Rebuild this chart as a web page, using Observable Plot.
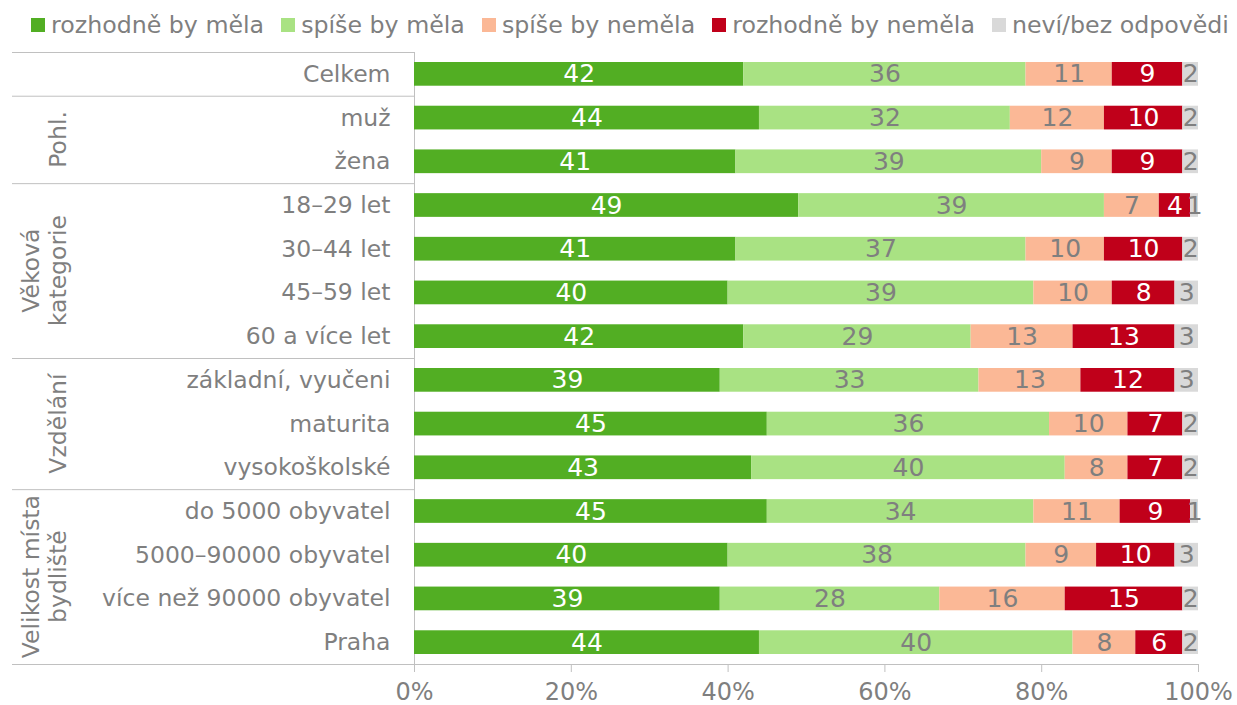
<!DOCTYPE html>
<html>
<head>
<meta charset="utf-8">
<script src="https://cdn.jsdelivr.net/npm/d3@7"></script>
<script src="https://cdn.jsdelivr.net/npm/@observablehq/plot@0.6"></script>
<style>
  html, body { margin: 0; padding: 0; background: #fff; overflow: hidden; width: 1237px; height: 705px; font-family: "DejaVu Sans", Verdana, sans-serif; }
  #legend { position: absolute; top: 0; left: 0; display: flex; align-items: center; height: 50px; padding-left: 31px; font-size: 23.7px; color: #7f7f7f; white-space: nowrap; }
  .item { display: flex; align-items: center; margin-right: 17px; }
  .sw { width: 14px; height: 14px; margin-right: 6px; flex: none; }
  #chart { position: absolute; top: 50px; left: 0; }
  #chart svg { display: block; max-width: none !important; }
</style>
</head>
<body>
<div id="legend"></div>
<div id="chart"></div>
<script>
// ---- data ----
const series = ["rozhodně by měla", "spíše by měla", "spíše by neměla", "rozhodně by neměla", "neví/bez odpovědi"];
const seriesColors = ["#52ae23", "#a9e283", "#fbb896", "#c0001a", "#d9d9d9"];
const categories = [
  "Celkem", "muž", "žena",
  "18–29 let", "30–44 let", "45–59 let", "60 a více let",
  "základní, vyučeni", "maturita", "vysokoškolské",
  "do 5000 obyvatel", "5000–90000 obyvatel", "více než 90000 obyvatel", "Praha"
];
const rozhodneAno = [42, 44, 41, 49, 41, 40, 42, 39, 45, 43, 45, 40, 39, 44];
const spiseAno    = [36, 32, 39, 39, 37, 39, 29, 33, 36, 40, 34, 38, 28, 40];
const spiseNe     = [11, 12,  9,  7, 10, 10, 13, 13, 10,  8, 11,  9, 16,  8];
const rozhodneNe  = [ 9, 10,  9,  4, 10,  8, 13, 12,  7,  7,  9, 10, 15,  6];
const nevi        = [ 2,  2,  2,  1,  2,  3,  3,  3,  2,  2,  1,  3,  2,  2];
const groupLabels = [[], ["Pohl."], ["Věková", "kategorie"], ["Vzdělání"], ["Velikost místa", "bydliště"]];
const groupFirst  = ["Celkem", "muž", "18–29 let", "základní, vyučeni", "do 5000 obyvatel"];
const groupLast   = ["Celkem", "žena", "60 a více let", "vysokoškolské", "Praha"];
const xTicks = [0, 20, 40, 60, 80, 100];
const whiteLabelSeries = ["rozhodně by měla", "rozhodně by neměla"];

// ---- table ----
const valueArrays = [rozhodneAno, spiseAno, spiseNe, rozhodneNe, nevi];
const rows = [];
categories.forEach((cat, i) => {
  series.forEach((s, j) => rows.push({cat, series: s, value: valueArrays[j][i]}));
});

// ---- legend ----
const legend = d3.select("#legend");
series.forEach((s, j) => {
  const it = legend.append("div").attr("class", "item");
  it.append("div").attr("class", "sw").style("background", seriesColors[j]);
  it.append("span").text(s);
});

const grey = "#7f7f7f";
const lineGrey = "#c0c0c0";

const plot = Plot.plot({
  width: 1237,
  height: 655,
  marginLeft: 414,
  marginRight: 39,
  marginTop: 2,
  marginBottom: 41,
  style: {fontFamily: "DejaVu Sans, Verdana, sans-serif", background: "white", overflow: "visible"},
  x: {domain: [0, 100], label: null},
  y: {domain: categories, padding: 0, round: false, label: null},
  color: {domain: series, range: seriesColors},
  marks: [
    Plot.ruleX([0], {stroke: lineGrey}),
    Plot.barX(rows, Plot.stackX({x: "value", y: "cat", fill: "series", insetTop: 10, insetBottom: 10})),
    Plot.text(rows, Plot.stackX({
      x: "value", y: "cat", z: "series",
      text: d => whiteLabelSeries.includes(d.series) ? String(d.value) : "",
      fill: "white", fontSize: 25
    })),
    Plot.text(rows, Plot.stackX({
      x: "value", y: "cat", z: "series",
      text: d => whiteLabelSeries.includes(d.series) ? "" : String(d.value),
      fill: grey, fontSize: 25
    })),
    Plot.axisY({tickSize: 0, tickPadding: 24, fontSize: 23.5, color: grey, label: null}),
    Plot.axisX({ticks: xTicks, tickFormat: d => d + "%", tickSize: 8, tickPadding: 10, fontSize: 24, color: grey, stroke: lineGrey, label: null})
  ]
});

document.getElementById("chart").appendChild(plot);

// ---- group separators and group labels (positions from the plot's scales) ----
const ys = plot.scale("y");
const xs = plot.scale("x");
const bw = ys.bandwidth;
const svg = d3.select(plot);
const g = svg.append("g");
const x0 = xs.apply(0);
const leftEdge = 12;

groupFirst.forEach((first, k) => {
  const top = ys.apply(first);
  const bottom = ys.apply(groupLast[k]) + bw;
  g.append("line").attr("x1", leftEdge).attr("x2", x0).attr("y1", top + 0.5).attr("y2", top + 0.5)
    .attr("stroke", lineGrey);
  const lines = groupLabels[k];
  const yc = (top + bottom) / 2;
  const baselines = lines.length === 2 ? [39, 66] : [66];
  lines.forEach((t, li) => {
    g.append("text")
      .attr("transform", `translate(${baselines[li]},${yc}) rotate(-90)`)
      .attr("text-anchor", "middle")
      .attr("fill", grey)
      .attr("font-size", 23.5)
      .attr("font-family", "DejaVu Sans, Verdana, sans-serif")
      .text(t);
  });
});
const yBottom = ys.apply(categories[categories.length - 1]) + bw;
g.append("line").attr("x1", leftEdge).attr("x2", xs.apply(100)).attr("y1", yBottom + 0.5).attr("y2", yBottom + 0.5)
  .attr("stroke", lineGrey);
</script>
</body>
</html>
